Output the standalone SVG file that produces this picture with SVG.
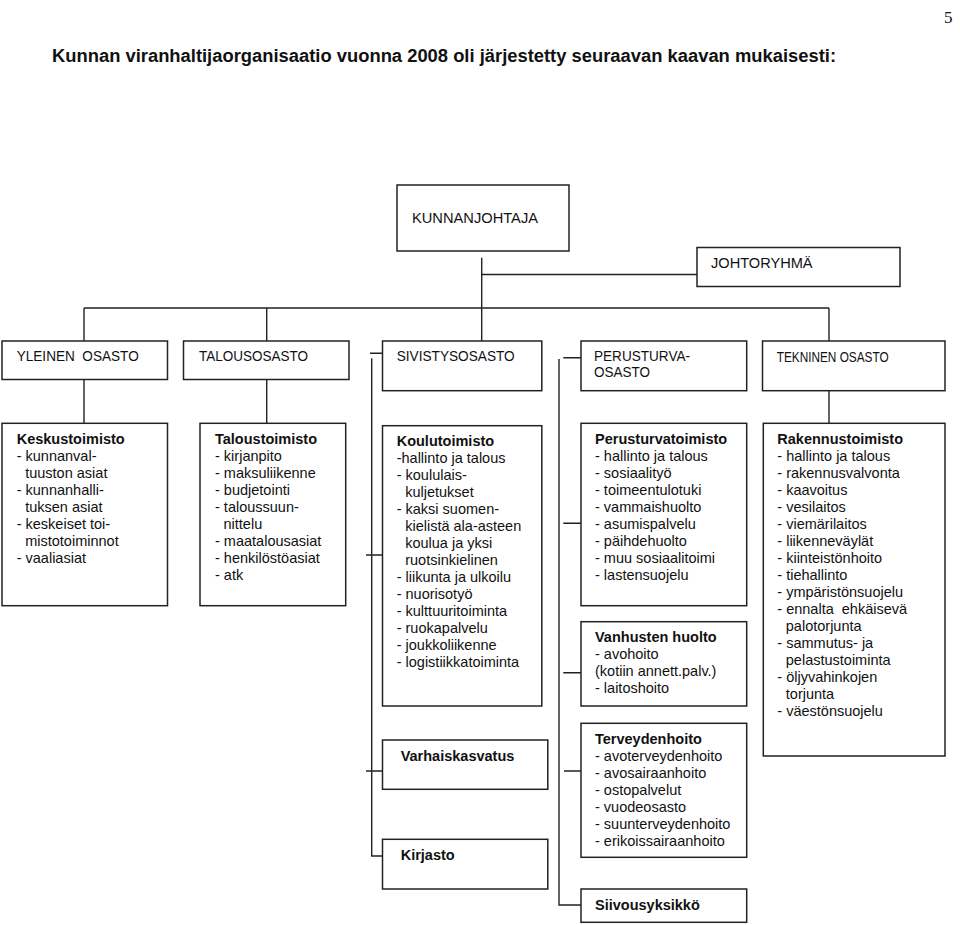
<svg xmlns="http://www.w3.org/2000/svg" width="960" height="925" viewBox="0 0 960 925">
<style>
.box{fill:#fff;stroke:#222;stroke-width:1.5}
.ln{stroke:#222;stroke-width:1.4;fill:none}
.t{font-family:"Liberation Sans",Arial,Helvetica,sans-serif;font-size:14.5px;fill:#111;white-space:pre}
.h{font-weight:bold}
.top{font-family:"Liberation Sans",Arial,Helvetica,sans-serif;font-size:14px;fill:#111;white-space:pre}
</style>
<rect width="960" height="925" fill="#fff"/>
<text x="944" y="23" style="font-family:'Liberation Serif','Times New Roman',serif;font-size:17px;fill:#111">5</text>
<text x="52" y="62" textLength="784" lengthAdjust="spacingAndGlyphs" style="font-family:'Liberation Sans',Arial,sans-serif;font-size:18px;font-weight:bold;fill:#111">Kunnan viranhaltijaorganisaatio vuonna 2008 oli järjestetty seuraavan kaavan mukaisesti:</text>

<g id="connectors">
<path class="ln" d="M481.7 257.7V341M481.7 274.5H697M84 308H829M84 308V341M266.7 308V341M829 308V341"/>
<path class="ln" d="M84 379.5V423.3M266.7 379.5V423.3M829 390.7V423.3"/>
<path class="ln" d="M370 353.3H382.5M371.7 358.3V856H382.5M366 555H382.5M366 771H382.5"/>
<path class="ln" d="M563.3 357.7H581M559 359V905H581M563.3 523.3H581M563.3 672.7H581M564 771H581"/>
</g>

<g id="kunnanjohtaja"><rect class="box" x="397" y="185" width="172" height="66"/><text class="top" x="412" y="223" font-size="14.5" textLength="126" lengthAdjust="spacingAndGlyphs">KUNNANJOHTAJA</text></g>
<g id="johtoryhma"><rect class="box" x="697" y="247.5" width="203" height="39"/><text class="top" x="711" y="267.7" font-size="14.5" textLength="101.6" lengthAdjust="spacingAndGlyphs">JOHTORYHMÄ</text></g>
<g id="yleinen"><rect class="box" x="2" y="341" width="165.5" height="38.5"/><text class="top" x="16.7" y="361" textLength="122" lengthAdjust="spacingAndGlyphs">YLEINEN  OSASTO</text></g>
<g id="talousosasto"><rect class="box" x="183.5" y="341" width="165.5" height="38.5"/><text class="top" x="199" y="361" textLength="109" lengthAdjust="spacingAndGlyphs">TALOUSOSASTO</text></g>
<g id="sivistysosasto"><rect class="box" x="382.5" y="341" width="159.3" height="49.7"/><text class="top" x="396.7" y="361" textLength="118" lengthAdjust="spacingAndGlyphs">SIVISTYSOSASTO</text></g>
<g id="perusturvaosasto"><rect class="box" x="581" y="341" width="165.7" height="49.7"/><text class="top" x="594" y="361" textLength="96" lengthAdjust="spacingAndGlyphs">PERUSTURVA-</text><text class="top" x="594" y="377" textLength="56" lengthAdjust="spacingAndGlyphs">OSASTO</text></g>
<g id="tekninen"><rect class="box" x="762.5" y="341" width="182.5" height="49.7"/><text class="top" x="776.7" y="362.3" font-size="12" textLength="112" lengthAdjust="spacingAndGlyphs">TEKNINEN OSASTO</text></g>

<g id="keskustoimisto"><rect class="box" x="2" y="423.3" width="165.5" height="182.4"/>
<text class="t"><tspan class="h" x="16.7" y="444.3">Keskustoimisto</tspan><tspan x="16.7" y="461.3">- kunnanval-</tspan><tspan x="25.2" y="478.3">tuuston asiat</tspan><tspan x="16.7" y="495.3">- kunnanhalli-</tspan><tspan x="25.2" y="512.3">tuksen asiat</tspan><tspan x="16.7" y="529.3">- keskeiset toi-</tspan><tspan x="25.2" y="546.3">mistotoiminnot</tspan><tspan x="16.7" y="563.3">- vaaliasiat</tspan></text></g>

<g id="taloustoimisto"><rect class="box" x="200" y="423.3" width="145.7" height="182.4"/>
<text class="t"><tspan class="h" x="215" y="444.3">Taloustoimisto</tspan><tspan x="215" y="461.3">- kirjanpito</tspan><tspan x="215" y="478.3">- maksuliikenne</tspan><tspan x="215" y="495.3">- budjetointi</tspan><tspan x="215" y="512.3">- taloussuun-</tspan><tspan x="223.5" y="529.3">nittelu</tspan><tspan x="215" y="546.3">- maatalousasiat</tspan><tspan x="215" y="563.3">- henkilöstöasiat</tspan><tspan x="215" y="580.3">- atk</tspan></text></g>

<g id="koulutoimisto"><rect class="box" x="382.5" y="425.7" width="159.3" height="280.3"/>
<text class="t"><tspan class="h" x="396.7" y="445.7">Koulutoimisto</tspan><tspan x="396.7" y="462.7">-hallinto ja talous</tspan><tspan x="396.7" y="479.7">- koululais-</tspan><tspan x="405.2" y="496.7">kuljetukset</tspan><tspan x="396.7" y="513.7">- kaksi suomen-</tspan><tspan x="405.2" y="530.7">kielistä ala-asteen</tspan><tspan x="405.2" y="547.7">koulua ja yksi</tspan><tspan x="405.2" y="564.7">ruotsinkielinen</tspan><tspan x="396.7" y="581.7">- liikunta ja ulkoilu</tspan><tspan x="396.7" y="598.7">- nuorisotyö</tspan><tspan x="396.7" y="615.7">- kulttuuritoiminta</tspan><tspan x="396.7" y="632.7">- ruokapalvelu</tspan><tspan x="396.7" y="649.7">- joukkoliikenne</tspan><tspan x="396.7" y="666.7">- logistiikkatoiminta</tspan></text></g>

<g id="varhaiskasvatus"><rect class="box" x="382.5" y="740" width="165.3" height="49.3"/><text class="t h" x="400.7" y="761">Varhaiskasvatus</text></g>
<g id="kirjasto"><rect class="box" x="382.5" y="839.3" width="165.3" height="49.7"/><text class="t h" x="400.7" y="860">Kirjasto</text></g>

<g id="perusturvatoimisto"><rect class="box" x="581" y="423.3" width="165.7" height="182.4"/>
<text class="t"><tspan class="h" x="595" y="444.3">Perusturvatoimisto</tspan><tspan x="595" y="461.3">- hallinto ja talous</tspan><tspan x="595" y="478.3">- sosiaalityö</tspan><tspan x="595" y="495.3">- toimeentulotuki</tspan><tspan x="595" y="512.3">- vammaishuolto</tspan><tspan x="595" y="529.3">- asumispalvelu</tspan><tspan x="595" y="546.3">- päihdehuolto</tspan><tspan x="595" y="563.3">- muu sosiaalitoimi</tspan><tspan x="595" y="580.3">- lastensuojelu</tspan></text></g>

<g id="vanhusten-huolto"><rect class="box" x="581" y="621.7" width="165.7" height="84.3"/>
<text class="t"><tspan class="h" x="595" y="642.3">Vanhusten huolto</tspan><tspan x="595" y="659.3">- avohoito</tspan><tspan x="595" y="676.3">(kotiin annett.palv.)</tspan><tspan x="595" y="693.3">- laitoshoito</tspan></text></g>

<g id="terveydenhoito"><rect class="box" x="581" y="723.3" width="165.7" height="134"/>
<text class="t"><tspan class="h" x="595" y="744">Terveydenhoito</tspan><tspan x="595" y="761">- avoterveydenhoito</tspan><tspan x="595" y="778">- avosairaanhoito</tspan><tspan x="595" y="795">- ostopalvelut</tspan><tspan x="595" y="812">- vuodeosasto</tspan><tspan x="595" y="829">- suunterveydenhoito</tspan><tspan x="595" y="846">- erikoissairaanhoito</tspan></text></g>

<g id="siivousyksikko"><rect class="box" x="581" y="889" width="165.7" height="33.3"/><text class="t h" x="595" y="910">Siivousyksikkö</text></g>

<g id="rakennustoimisto"><rect class="box" x="763.3" y="423.3" width="181.7" height="332.7"/>
<text class="t"><tspan class="h" x="777.3" y="444.3">Rakennustoimisto</tspan><tspan x="777.3" y="461.3">- hallinto ja talous</tspan><tspan x="777.3" y="478.3">- rakennusvalvonta</tspan><tspan x="777.3" y="495.3">- kaavoitus</tspan><tspan x="777.3" y="512.3">- vesilaitos</tspan><tspan x="777.3" y="529.3">- viemärilaitos</tspan><tspan x="777.3" y="546.3">- liikenneväylät</tspan><tspan x="777.3" y="563.3">- kiinteistönhoito</tspan><tspan x="777.3" y="580.3">- tiehallinto</tspan><tspan x="777.3" y="597.3">- ympäristönsuojelu</tspan><tspan x="777.3" y="614.3">- ennalta  ehkäisevä</tspan><tspan x="785.8" y="631.3">palotorjunta</tspan><tspan x="777.3" y="648.3">- sammutus- ja</tspan><tspan x="785.8" y="665.3">pelastustoiminta</tspan><tspan x="777.3" y="682.3">- öljyvahinkojen</tspan><tspan x="785.8" y="699.3">torjunta</tspan><tspan x="777.3" y="716.3">- väestönsuojelu</tspan></text></g>
</svg>
